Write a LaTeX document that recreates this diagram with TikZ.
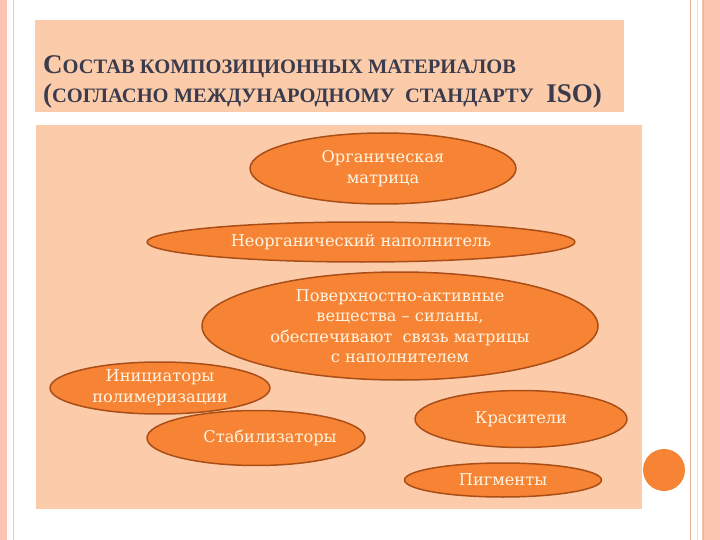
\documentclass[tikz,border=0pt]{standalone}
\usepackage{fontspec}
\setmainfont{DejaVu Serif}
\newfontfamily\titlefont{Liberation Serif}
\usetikzlibrary{shapes.geometric}
\definecolor{peach}{RGB}{252,204,170}
\definecolor{orng}{RGB}{246,132,52}
\definecolor{rim}{RGB}{170,78,24}
\definecolor{cream}{RGB}{255,244,226}
\definecolor{slate}{RGB}{58,60,78}
\definecolor{rose}{RGB}{250,196,176}
\newcommand{\bigletter}[1]{{\fontsize{27}{27}\selectfont #1}}
\newcommand{\smallcaps}[1]{{\fontsize{20.5}{20.5}\selectfont #1}}
\begin{document}
\begin{tikzpicture}[x=1pt, y=-1pt, line join=round,
	blob/.style={ellipse, draw=rim, fill=orng, line width=1.5pt, text=cream, inner sep=0pt, align=center, font=\fontsize{16.2}{20.5}\selectfont},
	headline/.style={anchor=base west, inner sep=0pt, text=slate, font=\titlefont\bfseries}]
	\useasboundingbox (0,0) rectangle (720,540);
	% frame of the slide
	\fill[rose] (0,0) rectangle (7,540);
	\draw[rose, line width=.8pt] (13,0)--(13,540);
	\fill[rose] (702,0) rectangle (720,540);
	\draw[rose!70!orange, line width=1pt] (703,0)--(703,540);
	\draw[rose!60, line width=.6pt] (697,0)--(697,540);
	\draw[rose!70!brown, line width=.6pt] (690,0)--(690,540);
	\fill[peach] (35,20) rectangle (624,112);
	\fill[peach] (36,125) rectangle (642,509);
	\fill[orng] (664,470) circle (21pt);
	% title
	\node[headline] (ttl1) at (43,74) {\bigletter{С}\smallcaps{ОСТАВ КОМПОЗИЦИОННЫХ МАТЕРИАЛОВ}};
	\node[headline] (ttl2) at (43,103) {\bigletter{(}\smallcaps{СОГЛАСНО МЕЖДУНАРОДНОМУ\ \ СТАНДАРТУ}\quad\ \bigletter{ISO)}};
	% components
	\node[blob, minimum width=266pt, minimum height=71pt] (org) at (383,168.5) {Органическая\\матрица};
	\node[blob, minimum width=428pt, minimum height=40pt] (inorg) at (361,242) {Неорганический наполнитель};
	\node[blob, minimum width=396pt, minimum height=108pt] (surf) at (400,326) {Поверхностно-активные\\вещества -- силаны,\\обеспечивают\ \ связь матрицы\\с наполнителем};
	\node[blob, minimum width=220pt, minimum height=52pt] (init) at (160,388) {Инициаторы\\полимеризации};
	\node[blob, minimum width=218pt, minimum height=55pt] (stab) at (256,438) {\makebox[0pt]{\hspace*{28pt}Стабилизаторы}};
	\node[blob, minimum width=212pt, minimum height=57pt] (dye) at (521,419) {Красители};
	\node[blob, minimum width=197pt, minimum height=34pt] (pigm) at (503,480) {Пигменты};
\end{tikzpicture}
\end{document}
